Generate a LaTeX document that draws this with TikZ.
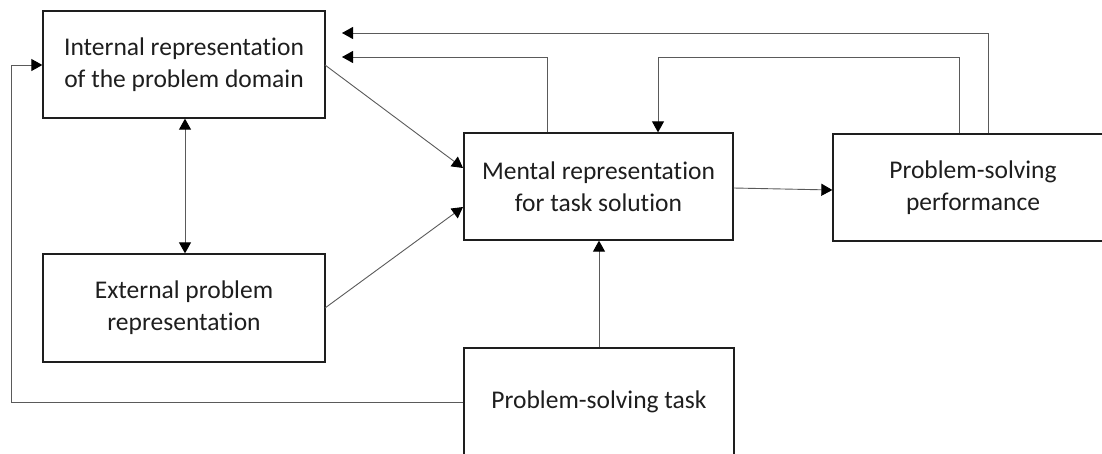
\documentclass[tikz,border=0pt]{standalone}
\usepackage{fontspec}
\setmainfont{Carlito}[Ligatures=NoCommon]
\usetikzlibrary{arrows.meta}
\definecolor{ink}{HTML}{1E1E1E}
\definecolor{wire}{HTML}{5A5A5A}
\begin{document}
\begin{tikzpicture}[x=1pt,y=-1pt,
  box/.style={draw=ink, line width=1.3pt, fill=white, text=ink, align=center,
    font=\fontsize{25.5}{32}\selectfont, inner sep=0pt},
  tip/.style={Triangle[length=11pt,width=12pt,color=black]},
  link/.style={draw=wire, line width=0.9pt, -{Triangle[length=11pt,width=12pt,color=black]}},
  biglink/.style={draw=wire, line width=0.9pt,
    {Triangle[length=11pt,width=12pt,color=black]}-{Triangle[length=11pt,width=12pt,color=black]}}]
\useasboundingbox (0,0) rectangle (1102,453);
\clip (0,0) rectangle (1102,453);

% boxes
\node[box, minimum width=282pt, minimum height=107pt] (A) at (184,64.5)
  {Internal representation\\of the problem domain};
\node[box, minimum width=282pt, minimum height=108pt] (B) at (184,308)
  {External problem\\representation};
\node[box, minimum width=269pt, minimum height=107pt] (C) at (598.5,186.5)
  {Mental representation\\for task solution};
\node[box, minimum width=280pt, minimum height=107pt] (D) at (973,187.5)
  {Problem-solving\\performance};
\node[box, minimum width=270pt, minimum height=108pt] (E) at (599,402)
  {Problem-solving task};

% free ends of the feedback lines, just right of box A
\coordinate (fbTop) at (342,33);
\coordinate (fbMid) at (342,57);

% connectors
\draw[biglink] (A.south -| 185,0) -- (B.north -| 185,0);
\draw[link] (325,65) -- (463,168);
\draw[link] (325,308) -- (463,207);
\draw[link] (C.east |- 0,188) -- (D.west |- 0,190);
\draw[link] (E.north -| 599,0) -- (C.south -| 599,0);
\draw[link] (D.north -| 988,0) -- (988,33) -- (fbTop);
\draw[link] (C.north -| 547,0) -- (547,57) -- (fbMid);
\draw[link] (D.north -| 959,0) -- (959,57) -- (658,57) -- (C.north -| 658,0);
\draw[link] (E.west) -- (11,402) -- (11,65) -- (A.west |- 0,65);
\end{tikzpicture}
\end{document}
